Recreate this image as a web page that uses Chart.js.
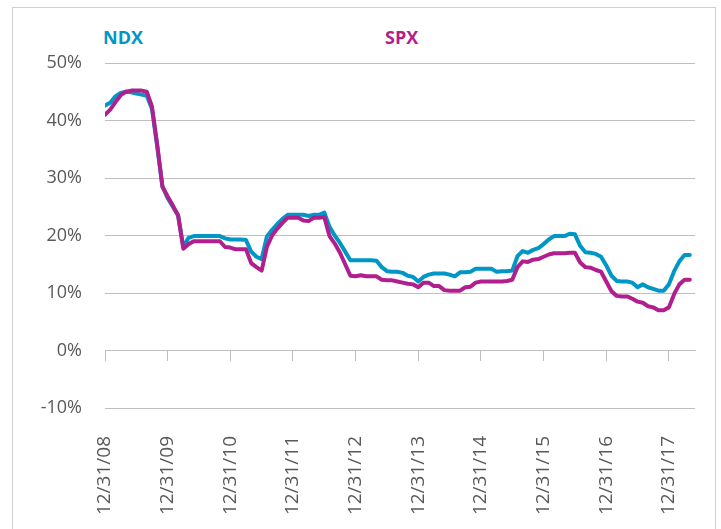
<!DOCTYPE html>
<html>
<head>
<meta charset="utf-8">
<script src="https://cdn.jsdelivr.net/npm/chart.js@4/dist/chart.umd.min.js"></script>
<style>
  html, body { margin: 0; padding: 0; background: #ffffff; }
  #wrap { position: relative; width: 721px; height: 529px; overflow: hidden; }
  #frame { position: absolute; left: 12px; top: 7px; width: 702px; height: 560px; border: 1px solid #D0D0D0; }
  .leg { position: absolute; top: 26px; font-family: "Open Sans", sans-serif; font-weight: 700; font-size: 18px; line-height: 22px; }
  canvas { position: absolute; left: 0; top: 0; }
</style>
</head>
<body>
<div id="wrap">
  <div id="frame"></div>
  <div class="leg" id="legNdx" style="left:103px;color:#0096C6;">NDX</div>
  <div class="leg" id="legSpx" style="left:385px;color:#B01F8D;">SPX</div>
  <canvas id="c" width="721" height="529"></canvas>
</div>
<script>
// Months since 12/31/08 (index = month offset)
const ndx = [
  42.6, 43.1, 44.2, 44.8, 45.0, 44.9, 44.7, 44.5, 44.3, 42.0,
  35.5, 28.5, 26.5, 25.0, 23.5, 18.0, 19.6, 19.9, 19.9, 19.9,
  19.9, 19.9, 19.9, 19.5, 19.3, 19.3, 19.3, 19.2, 17.2, 16.3,
  15.9, 19.8, 21.0, 22.0, 22.9, 23.6, 23.6, 23.6, 23.6, 23.4,
  23.6, 23.6, 24.0, 21.5, 20.0, 18.7, 17.2, 15.7, 15.7, 15.7,
  15.7, 15.7, 15.6, 14.5, 13.8, 13.7, 13.7, 13.5, 13.0, 12.8,
  12.0, 12.8, 13.2, 13.4, 13.4, 13.4, 13.2, 12.9, 13.6, 13.6,
  13.7, 14.2, 14.2, 14.2, 14.2, 13.7, 13.8, 13.8, 13.9, 16.4,
  17.3, 17.0, 17.5, 17.8, 18.5, 19.3, 19.9, 19.9, 19.9, 20.3,
  20.2, 18.2, 17.1, 17.0, 16.8, 16.3, 14.8, 13.0, 12.1, 12.0,
  12.0, 11.8, 11.0, 11.5, 11.0, 10.7, 10.4, 10.4, 11.5, 13.8,
  15.5, 16.6, 16.6
];
const spx = [
  41.0, 41.9, 43.2, 44.4, 45.0, 45.2, 45.2, 45.2, 45.0, 42.4,
  35.8, 28.5, 26.8, 25.2, 23.5, 17.7, 18.5, 19.0, 19.0, 19.0,
  19.0, 19.0, 19.0, 18.0, 17.9, 17.6, 17.6, 17.6, 15.2, 14.5,
  13.9, 18.0, 20.0, 21.2, 22.2, 23.1, 23.1, 23.1, 22.6, 22.5,
  23.1, 23.1, 23.2, 19.9, 18.6, 17.0, 15.0, 13.0, 12.9, 13.1,
  12.9, 12.9, 12.9, 12.3, 12.2, 12.2, 12.0, 11.8, 11.6, 11.5,
  11.0, 11.8, 11.8, 11.2, 11.2, 10.5, 10.4, 10.4, 10.4, 11.0,
  11.1, 11.8, 12.0, 12.0, 12.0, 12.0, 12.0, 12.1, 12.3, 14.5,
  15.5, 15.4, 15.8, 15.9, 16.3, 16.7, 16.9, 16.9, 16.9, 17.0,
  17.0, 15.3, 14.5, 14.4, 14.0, 13.7, 12.0, 10.3, 9.5, 9.4,
  9.4, 9.0, 8.5, 8.3, 7.7, 7.5, 7.0, 7.0, 7.5, 9.8,
  11.5, 12.3, 12.3
];
const tickMonths = [0, 12, 24, 36, 48, 60, 72, 84, 96, 108];
const tickLabels = ['12/31/08', '12/31/09', '12/31/10', '12/31/11', '12/31/12',
                    '12/31/13', '12/31/14', '12/31/15', '12/31/16', '12/31/17'];
const yTicks = [-10, 0, 10, 20, 30, 40, 50];

const NDX_COLOR = '#0096C6';
const SPX_COLOR = '#B01F8D';
const GRID = '#BFBFBF';
const LABEL = '#595959';
const X_MAX = 113;

const setTicks = s => { s.ticks = tickMonths.map(v => ({ value: v })); };

new Chart(document.getElementById('c'), {
  type: 'line',
  data: {
    datasets: [
      {
        label: 'SPX', order: 0,
        data: spx.map((v, i) => ({ x: i, y: v })),
        borderColor: SPX_COLOR, backgroundColor: SPX_COLOR,
        borderWidth: 4, pointRadius: 0, tension: 0, borderJoinStyle: 'round', borderCapStyle: 'round'
      },
      {
        label: 'NDX', order: 1,
        data: ndx.map((v, i) => ({ x: i, y: v })),
        borderColor: NDX_COLOR, backgroundColor: NDX_COLOR,
        borderWidth: 4, pointRadius: 0, tension: 0, borderJoinStyle: 'round', borderCapStyle: 'round'
      }
    ]
  },
  options: {
    responsive: false,
    animation: false,
    events: [],
    layout: { padding: { left: 0, right: 26, top: 63, bottom: 0 } },
    plugins: { legend: { display: false }, tooltip: { enabled: false } },
    scales: {
      x: {
        type: 'linear', position: 'bottom', min: 0, max: X_MAX,
        afterBuildTicks: setTicks,
        afterFit: s => { s.height = 121; },
        grid: { display: false },
        border: { display: false },
        ticks: {
          minRotation: 90, maxRotation: 90, padding: 20, autoSkip: false,
          color: LABEL, font: { family: 'Open Sans', size: 19 },
          callback: v => tickLabels[tickMonths.indexOf(v)]
        }
      },
      xz: {
        type: 'linear', position: { y: 0 }, min: 0, max: X_MAX,
        afterBuildTicks: setTicks,
        grid: { drawOnChartArea: false, drawTicks: true, tickLength: 10, color: GRID, lineWidth: 1 },
        border: { display: true, color: GRID, width: 1 },
        ticks: { display: false }
      },
      y: {
        type: 'linear', position: 'left', min: -10, max: 50,
        afterBuildTicks: s => { s.ticks = yTicks.map(v => ({ value: v })); },
        afterFit: s => { s.width = 105; },
        grid: { color: GRID, lineWidth: 1, drawTicks: false },
        border: { display: false },
        ticks: {
          padding: 23, color: LABEL, font: { family: 'Open Sans', size: 18 },
          callback: v => v + '%'
        }
      }
    }
  }
});
</script>
</body>
</html>
